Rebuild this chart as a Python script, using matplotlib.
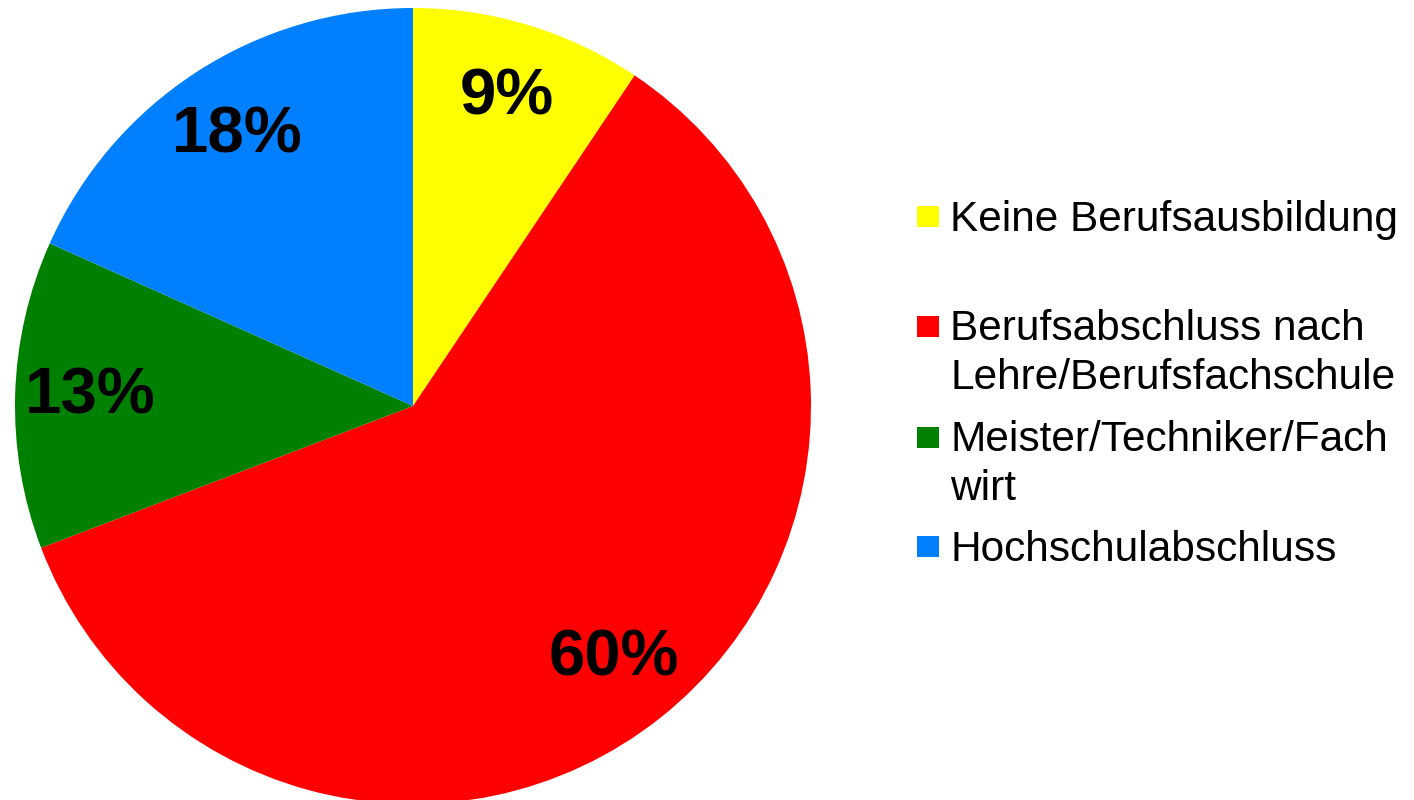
import matplotlib
matplotlib.use("Agg")
import matplotlib.pyplot as plt
from matplotlib.patches import Rectangle

# ============================================================
# DATA
# ============================================================

categories = [
    "Keine Berufsausbildung",
    "Berufsabschluss nach\nLehre/Berufsfachschule",
    "Meister/Techniker/Fach\nwirt",
    "Hochschulabschluss",
]

# wedge sizes, labels as printed
shares = [9.4, 59.8, 12.5, 18.3]
pct_labels = ["9%", "60%", "13%", "18%"]

colors = ["#FFFF00", "#FF0000", "#008000", "#0080FF"]

plt.rcParams["font.family"] = ["Liberation Sans", "DejaVu Sans"]

# ============================================================
# FIGURE
# ============================================================

W, H = 1414, 800
fig = plt.figure(figsize=(W / 100, H / 100), dpi=100)

cx, cy, r = 413, 406, 398
ax = fig.add_axes([
    (cx - r) / W,
    (H - cy - r) / H,
    2 * r / W,
    2 * r / H,
])

wedges, texts, autotexts = ax.pie(
    shares,
    colors=colors,
    startangle=90,
    counterclock=False,
    autopct=lambda p: "",
    pctdistance=0.81,
    wedgeprops=dict(linewidth=0),
    textprops=dict(fontsize=47, fontweight="bold", color="black"),
)

for t, lab in zip(autotexts, pct_labels):
    t.set_text(lab)

ax.set_xlim(-1, 1)
ax.set_ylim(-1, 1)
ax.set_aspect("equal")

# ------------------------------------------------------------
# LEGEND (uneven spacing as in the original)
# ------------------------------------------------------------

legend_baseline = [231, 341, 452, 561]   # pixel baseline of first line
line_step = 48                           # pixel distance between lines

for name, col, base in zip(categories, colors, legend_baseline):
    fig.patches.append(Rectangle(
        (917 / W, 1 - (base - 4) / H),
        22 / W,
        21 / H,
        transform=fig.transFigure,
        facecolor=col,
        edgecolor="none",
    ))
    # va="baseline" anchors the last line, so move down for extra lines
    last_base = base + name.count("\n") * line_step
    fig.text(
        950 / W,
        1 - last_base / H,
        name,
        fontsize=30.5,
        va="baseline",
        ha="left",
        linespacing=1.28,
        multialignment="left",
    )

fig.savefig("out.png", dpi=100)
